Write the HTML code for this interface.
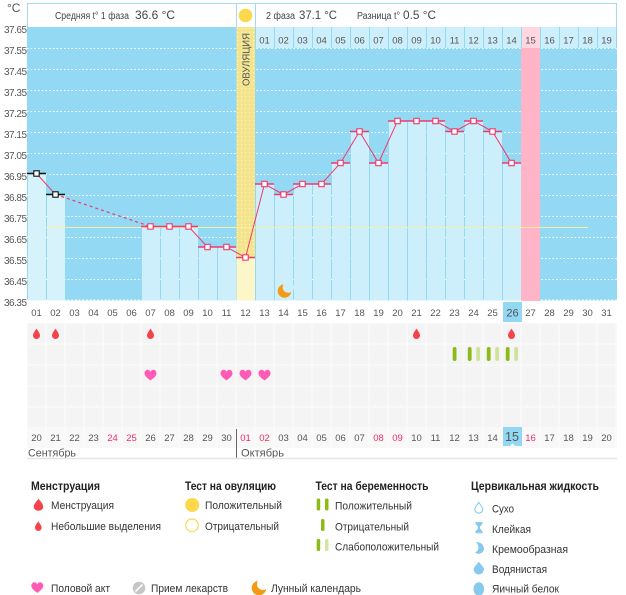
<!DOCTYPE html>
<html><head><meta charset="utf-8"><style>
html,body{margin:0;padding:0;background:#fff;}
svg{display:block;}
text{font-family:"Liberation Sans","DejaVu Sans",sans-serif;}
</style></head><body>
<svg width="626" height="595" viewBox="0 0 626 595" xmlns="http://www.w3.org/2000/svg">
<defs>
<pattern id="dots" x="236" y="27" width="4" height="4" patternUnits="userSpaceOnUse"><rect width="4" height="4" fill="#f4e48d"/><rect x="1" y="1" width="1" height="1" fill="#fff6c8"/></pattern>
<pattern id="cells" x="27" y="323" width="19" height="21" patternUnits="userSpaceOnUse"><rect width="19" height="21" fill="#fbfbfb"/><rect x="0.5" y="0.5" width="18" height="20" fill="#f4f4f4"/></pattern>
<pattern id="cells2" x="27" y="428" width="19" height="20" patternUnits="userSpaceOnUse"><rect width="19" height="20" fill="#fdfdfd"/><rect x="0.5" y="0" width="18" height="20" fill="#f8f8f8"/></pattern>
<path id="heart" d="M0,5 C-1,4 -6,1 -6,-2 C-6,-4.5 -4.2,-5.8 -3,-5.8 C-1.5,-5.8 -0.5,-4.8 0,-3.6 C0.5,-4.8 1.5,-5.8 3,-5.8 C4.2,-5.8 6,-4.5 6,-2 C6,1 1,4 0,5 Z" fill="#ff5ab6"/>
<path id="drop" d="M0,-5.5 C1,-3.5 3.5,-1 3.5,1.5 A3.5,3.5 0 0 1 -3.5,1.5 C-3.5,-1 -1,-3.5 0,-5.5Z" fill="#f3444c"/>
</defs>

<!-- °C -->
<text x="7" y="12" font-size="12" fill="#555">°C</text>

<!-- header -->
<rect x="27.5" y="3.5" width="589" height="24" fill="#fff" stroke="#a3daf0" stroke-width="1"/>
<line x1="236.5" y1="3.5" x2="236.5" y2="27" stroke="#a3daf0"/>
<line x1="255.5" y1="3.5" x2="255.5" y2="27" stroke="#a3daf0"/>
<text x="55" y="19" font-size="10" fill="#444" textLength="74" lengthAdjust="spacingAndGlyphs">Средняя t° 1 фаза</text>
<text x="135" y="19" font-size="12" fill="#444" textLength="40" lengthAdjust="spacingAndGlyphs">36.6 °C</text>
<circle cx="245.5" cy="15.5" r="6.8" fill="#fdd84a"/>
<text x="266" y="19" font-size="10" fill="#444" textLength="29" lengthAdjust="spacingAndGlyphs">2 фаза</text>
<text x="299" y="19" font-size="12" fill="#444" textLength="38" lengthAdjust="spacingAndGlyphs">37.1 °C</text>
<text x="357" y="19" font-size="10" fill="#444" textLength="43" lengthAdjust="spacingAndGlyphs">Разница t°</text>
<text x="403" y="19" font-size="12" fill="#444" textLength="33" lengthAdjust="spacingAndGlyphs">0.5 °C</text>

<!-- chart background -->
<rect x="27" y="27" width="590" height="273.5" fill="#93d9f3"/>

<!-- gridlines -->
<g stroke="#ffffff" stroke-width="1" stroke-dasharray="1.5,2.2">
<line x1="27" y1="300" x2="617" y2="300"/>
<line x1="27" y1="279.5" x2="617" y2="279.5"/>
<line x1="27" y1="258.5" x2="617" y2="258.5"/>
<line x1="27" y1="237.5" x2="617" y2="237.5"/>
<line x1="27" y1="216.5" x2="617" y2="216.5"/>
<line x1="27" y1="195.5" x2="617" y2="195.5"/>
<line x1="27" y1="174.5" x2="617" y2="174.5"/>
<line x1="27" y1="153.5" x2="617" y2="153.5"/>
<line x1="27" y1="132.5" x2="617" y2="132.5"/>
<line x1="27" y1="111.5" x2="617" y2="111.5"/>
<line x1="27" y1="90.5" x2="617" y2="90.5"/>
<line x1="27" y1="69.5" x2="617" y2="69.5"/>
<line x1="27" y1="48.5" x2="617" y2="48.5"/>
</g>

<!-- top day row for post-ovulation -->
<g fill="#cdeffb">
<rect x="256" y="27" width="18" height="21"/><rect x="275" y="27" width="18" height="21"/><rect x="294" y="27" width="18" height="21"/><rect x="313" y="27" width="18" height="21"/><rect x="332" y="27" width="18" height="21"/><rect x="351" y="27" width="18" height="21"/><rect x="370" y="27" width="18" height="21"/><rect x="389" y="27" width="18" height="21"/><rect x="408" y="27" width="18" height="21"/><rect x="427" y="27" width="18" height="21"/><rect x="446" y="27" width="18" height="21"/><rect x="465" y="27" width="18" height="21"/><rect x="484" y="27" width="18" height="21"/><rect x="503" y="27" width="18" height="21"/><rect x="522" y="27" width="18" height="21" fill="#ffd6e1"/><rect x="541" y="27" width="18" height="21"/><rect x="560" y="27" width="18" height="21"/><rect x="579" y="27" width="18" height="21"/><rect x="598" y="27" width="18" height="21"/>
</g>
<g font-size="9.5" fill="#555" text-anchor="middle">
<text x="264.5" y="43.5">01</text><text x="283.5" y="43.5">02</text><text x="302.5" y="43.5">03</text><text x="321.5" y="43.5">04</text><text x="340.5" y="43.5">05</text><text x="359.5" y="43.5">06</text><text x="378.5" y="43.5">07</text><text x="397.5" y="43.5">08</text><text x="416.5" y="43.5">09</text><text x="435.5" y="43.5">10</text><text x="454.5" y="43.5">11</text><text x="473.5" y="43.5">12</text><text x="492.5" y="43.5">13</text><text x="511.5" y="43.5">14</text><text x="530.5" y="43.5">15</text><text x="549.5" y="43.5">16</text><text x="568.5" y="43.5">17</text><text x="587.5" y="43.5">18</text><text x="606.5" y="43.5">19</text>
</g>

<!-- pink column -->
<rect x="521" y="48" width="19" height="253" fill="#ffb4c7"/>

<!-- ovulation column -->
<rect x="236.5" y="27" width="18.5" height="230.5" fill="url(#dots)"/>
<rect x="236.5" y="257.5" width="18.5" height="43" fill="#fdf6c9"/>
<text transform="translate(249.5,86) rotate(-90)" font-size="10" fill="#555" textLength="53" lengthAdjust="spacingAndGlyphs">ОВУЛЯЦИЯ</text>

<!-- bars -->
<g fill="#cdeffb">
<rect x="28" y="173.5" width="18" height="127" fill="#d6f3fc"/>
<rect x="47" y="194.5" width="18" height="106" fill="#d6f3fc"/>
<rect x="142" y="226.5" width="18" height="74"/>
<rect x="161" y="226.5" width="18" height="74"/>
<rect x="180" y="226.5" width="18" height="74"/>
<rect x="199" y="247" width="18" height="53.5"/>
<rect x="218" y="247" width="18" height="53.5"/>
<rect x="256" y="184" width="18" height="116.5"/>
<rect x="275" y="194.5" width="18" height="106"/>
<rect x="294" y="184" width="18" height="116.5"/>
<rect x="313" y="184" width="18" height="116.5"/>
<rect x="332" y="163" width="18" height="137.5"/>
<rect x="351" y="131.5" width="18" height="169"/>
<rect x="370" y="163" width="18" height="137.5"/>
<rect x="389" y="121" width="18" height="179.5"/>
<rect x="408" y="121" width="18" height="179.5"/>
<rect x="427" y="121" width="18" height="179.5"/>
<rect x="446" y="131.5" width="18" height="169"/>
<rect x="465" y="121" width="18" height="179.5"/>
<rect x="484" y="131.5" width="18" height="169"/>
<rect x="503" y="163" width="18" height="137.5"/>
</g>

<!-- coverline -->
<line x1="46" y1="227.5" x2="588" y2="227.5" stroke="#f6f0a4" stroke-width="1"/>

<!-- caps -->
<g stroke="#111" stroke-width="1.4">
<line x1="27" y1="173.5" x2="46" y2="173.5"/>
<line x1="46" y1="194.5" x2="65" y2="194.5"/>
</g>
<g stroke="#ef3a6d" stroke-width="1.4">
<line x1="141" y1="226.5" x2="198" y2="226.5"/>
<line x1="198" y1="247" x2="236" y2="247"/>
<line x1="236" y1="257.5" x2="255" y2="257.5"/>
<line x1="255" y1="184" x2="274" y2="184"/>
<line x1="274" y1="194.5" x2="293" y2="194.5"/>
<line x1="293" y1="184" x2="331" y2="184"/>
<line x1="331" y1="163" x2="350" y2="163"/>
<line x1="350" y1="131.5" x2="369" y2="131.5"/>
<line x1="369" y1="163" x2="388" y2="163"/>
<line x1="388" y1="121" x2="445" y2="121"/>
<line x1="445" y1="131.5" x2="464" y2="131.5"/>
<line x1="464" y1="121" x2="483" y2="121"/>
<line x1="483" y1="131.5" x2="502" y2="131.5"/>
<line x1="502" y1="163" x2="521" y2="163"/>
</g>

<!-- data line -->
<polyline points="36.5,173.5 55.5,194.5" fill="none" stroke="#ef3a6d" stroke-width="1"/>
<polyline points="55.5,194.5 150.5,226.5" fill="none" stroke="#ef3a6d" stroke-width="1.2" stroke-dasharray="3,3"/>
<polyline points="150.5,226.5 169.5,226.5 188.5,226.5 207.5,247 226.5,247 245.5,257.5 264.5,184 283.5,194.5 302.5,184 321.5,184 340.5,163 359.5,131.5 378.5,163 397.5,121 416.5,121 435.5,121 454.5,131.5 473.5,121 492.5,131.5 511.5,163" fill="none" stroke="#ef3a6d" stroke-width="1"/>

<!-- markers -->
<g fill="#fff" stroke="#111" stroke-width="1.1">
<rect x="33.8" y="170.8" width="5.4" height="5.4"/>
<rect x="52.8" y="191.8" width="5.4" height="5.4"/>
</g>
<g fill="#fff" stroke="#ef3a6d" stroke-width="1.1">
<rect x="147.8" y="223.8" width="5.4" height="5.4"/>
<rect x="166.8" y="223.8" width="5.4" height="5.4"/>
<rect x="185.8" y="223.8" width="5.4" height="5.4"/>
<rect x="204.8" y="244.3" width="5.4" height="5.4"/>
<rect x="223.8" y="244.3" width="5.4" height="5.4"/>
<rect x="242.8" y="254.8" width="5.4" height="5.4"/>
<rect x="261.8" y="181.3" width="5.4" height="5.4"/>
<rect x="280.8" y="191.8" width="5.4" height="5.4"/>
<rect x="299.8" y="181.3" width="5.4" height="5.4"/>
<rect x="318.8" y="181.3" width="5.4" height="5.4"/>
<rect x="337.8" y="160.3" width="5.4" height="5.4"/>
<rect x="356.8" y="128.8" width="5.4" height="5.4"/>
<rect x="375.8" y="160.3" width="5.4" height="5.4"/>
<rect x="394.8" y="118.3" width="5.4" height="5.4"/>
<rect x="413.8" y="118.3" width="5.4" height="5.4"/>
<rect x="432.8" y="118.3" width="5.4" height="5.4"/>
<rect x="451.8" y="128.8" width="5.4" height="5.4"/>
<rect x="470.8" y="118.3" width="5.4" height="5.4"/>
<rect x="489.8" y="128.8" width="5.4" height="5.4"/>
<rect x="508.8" y="160.3" width="5.4" height="5.4"/>
</g>

<!-- moon in chart -->
<circle cx="284.5" cy="291" r="6.8" fill="#f39a16"/>
<circle cx="288.3" cy="287.2" r="5.6" fill="#cdeffb"/>

<!-- y labels -->
<g font-size="10" fill="#555" text-anchor="end">
<text x="27" y="33" textLength="23">37.65</text>
<text x="27" y="54" textLength="23">37.55</text>
<text x="27" y="75" textLength="23">37.45</text>
<text x="27" y="96" textLength="23">37.35</text>
<text x="27" y="117" textLength="23">37.25</text>
<text x="27" y="138" textLength="23">37.15</text>
<text x="27" y="159" textLength="23">37.05</text>
<text x="27" y="180" textLength="23">36.95</text>
<text x="27" y="201" textLength="23">36.85</text>
<text x="27" y="222" textLength="23">36.75</text>
<text x="27" y="243" textLength="23">36.65</text>
<text x="27" y="264" textLength="23">36.55</text>
<text x="27" y="285" textLength="23">36.45</text>
<text x="27" y="306" textLength="23">36.35</text>
</g>

<!-- lower area background -->
<rect x="27" y="323" width="590" height="105" fill="url(#cells)"/>
<rect x="27" y="428" width="590" height="20" fill="url(#cells2)"/>

<!-- day row -->
<rect x="503" y="302" width="19" height="20" fill="#92d8f2"/>
<g font-size="9.5" fill="#555" text-anchor="middle">
<text x="36.5" y="316">01</text><text x="55.5" y="316">02</text><text x="74.5" y="316">03</text><text x="93.5" y="316">04</text><text x="112.5" y="316">05</text><text x="131.5" y="316">06</text><text x="150.5" y="316">07</text><text x="169.5" y="316">08</text><text x="188.5" y="316">09</text><text x="207.5" y="316">10</text><text x="226.5" y="316">11</text><text x="245.5" y="316">12</text><text x="264.5" y="316">13</text><text x="283.5" y="316">14</text><text x="302.5" y="316">15</text><text x="321.5" y="316">16</text><text x="340.5" y="316">17</text><text x="359.5" y="316">18</text><text x="378.5" y="316">19</text><text x="397.5" y="316">20</text><text x="416.5" y="316">21</text><text x="435.5" y="316">22</text><text x="454.5" y="316">23</text><text x="473.5" y="316">24</text><text x="492.5" y="316">25</text><text x="512.5" y="316.5" font-size="11">26</text><text x="530.5" y="316">27</text><text x="549.5" y="316">28</text><text x="568.5" y="316">29</text><text x="587.5" y="316">30</text><text x="606.5" y="316">31</text>
</g>

<!-- drops -->
<use href="#drop" x="36.5" y="334"/>
<use href="#drop" x="55.5" y="334"/>
<use href="#drop" x="150.5" y="334"/>
<use href="#drop" x="416.5" y="334"/>
<use href="#drop" x="511.5" y="334"/>

<!-- pregnancy tests -->
<g fill="#8cba17">
<rect x="452.7" y="347" width="3.8" height="14" rx="1.9"/>
<rect x="467.8" y="347" width="3.8" height="14" rx="1.9"/>
<rect x="486.8" y="347" width="3.8" height="14" rx="1.9"/>
<rect x="505.8" y="347" width="3.8" height="14" rx="1.9"/>
</g>
<g fill="#cfe29c">
<rect x="476.2" y="347" width="3.8" height="14" rx="1.9"/>
<rect x="495.2" y="347" width="3.8" height="14" rx="1.9"/>
<rect x="514.2" y="347" width="3.8" height="14" rx="1.9"/>
</g>

<!-- hearts -->
<use href="#heart" x="150.5" y="375.5"/>
<use href="#heart" x="226.5" y="375.5"/>
<use href="#heart" x="245.5" y="375.5"/>
<use href="#heart" x="264.5" y="375.5"/>

<!-- bottom dates -->
<rect x="503" y="427" width="19" height="19" fill="#92d8f2"/>
<path d="M510,446 L512.5,443.5 L515,446 Z" fill="#fff"/>
<g font-size="9.5" fill="#555" text-anchor="middle">
<text x="36.5" y="441">20</text><text x="55.5" y="441">21</text><text x="74.5" y="441">22</text><text x="93.5" y="441">23</text><text x="112.5" y="441" fill="#ee2f64">24</text><text x="131.5" y="441" fill="#ee2f64">25</text><text x="150.5" y="441">26</text><text x="169.5" y="441">27</text><text x="188.5" y="441">28</text><text x="207.5" y="441">29</text><text x="226.5" y="441">30</text><text x="245.5" y="441" fill="#ee2f64">01</text><text x="264.5" y="441" fill="#ee2f64">02</text><text x="283.5" y="441">03</text><text x="302.5" y="441">04</text><text x="321.5" y="441">05</text><text x="340.5" y="441">06</text><text x="359.5" y="441">07</text><text x="378.5" y="441" fill="#ee2f64">08</text><text x="397.5" y="441" fill="#ee2f64">09</text><text x="416.5" y="441">10</text><text x="435.5" y="441">11</text><text x="454.5" y="441">12</text><text x="473.5" y="441">13</text><text x="492.5" y="441">14</text><text x="512" y="441" font-size="12.5">15</text><text x="530.5" y="441" fill="#ee2f64">16</text><text x="549.5" y="441">17</text><text x="568.5" y="441">18</text><text x="587.5" y="441">19</text><text x="606.5" y="441">20</text>
</g>

<!-- months -->
<line x1="236.5" y1="429" x2="236.5" y2="458" stroke="#666" stroke-width="1"/>
<text x="28" y="456.5" font-size="11" fill="#555" textLength="48" lengthAdjust="spacingAndGlyphs">Сентябрь</text>
<text x="241" y="456.5" font-size="11" fill="#555" textLength="43" lengthAdjust="spacingAndGlyphs">Октябрь</text>
<line x1="27" y1="458.5" x2="617" y2="458.5" stroke="#e6e6e6" stroke-width="1.5"/>

<!-- legend headers -->
<g font-size="12" font-weight="bold" fill="#222">
<text x="31" y="490" textLength="69" lengthAdjust="spacingAndGlyphs">Менструация</text>
<text x="185" y="490" textLength="91" lengthAdjust="spacingAndGlyphs">Тест на овуляцию</text>
<text x="315.5" y="490" textLength="113" lengthAdjust="spacingAndGlyphs">Тест на беременность</text>
<text x="471" y="490" textLength="128" lengthAdjust="spacingAndGlyphs">Цервикальная жидкость</text>
</g>

<!-- legend items -->
<g font-size="11" fill="#333">
<text x="51" y="509" textLength="63" lengthAdjust="spacingAndGlyphs">Менструация</text>
<text x="51" y="530" textLength="110" lengthAdjust="spacingAndGlyphs">Небольшие выделения</text>
<text x="205" y="509" textLength="77" lengthAdjust="spacingAndGlyphs">Положительный</text>
<text x="205" y="530" textLength="74" lengthAdjust="spacingAndGlyphs">Отрицательный</text>
<text x="335" y="509.5" textLength="77" lengthAdjust="spacingAndGlyphs">Положительный</text>
<text x="335" y="530.5" textLength="74" lengthAdjust="spacingAndGlyphs">Отрицательный</text>
<text x="335" y="550.5" textLength="104" lengthAdjust="spacingAndGlyphs">Слабоположительный</text>
<text x="492" y="512.5" textLength="22" lengthAdjust="spacingAndGlyphs">Сухо</text>
<text x="492" y="533" textLength="39" lengthAdjust="spacingAndGlyphs">Клейкая</text>
<text x="492" y="553" textLength="76" lengthAdjust="spacingAndGlyphs">Кремообразная</text>
<text x="492" y="573" textLength="55" lengthAdjust="spacingAndGlyphs">Водянистая</text>
<text x="492" y="592.5" textLength="67" lengthAdjust="spacingAndGlyphs">Яичный белок</text>
<text x="51" y="592" textLength="59" lengthAdjust="spacingAndGlyphs">Половой акт</text>
<text x="151" y="592" textLength="77" lengthAdjust="spacingAndGlyphs">Прием лекарств</text>
<text x="271" y="592" textLength="90" lengthAdjust="spacingAndGlyphs">Лунный календарь</text>
</g>

<!-- legend icons -->
<use href="#drop" transform="translate(38.5,505) scale(1.35,1.15)"/>
<use href="#drop" transform="translate(38.3,526.3) scale(0.95,0.92)"/>
<circle cx="192.2" cy="505" r="7" fill="#fdd84a"/>
<circle cx="192" cy="525.3" r="6.3" fill="#fff" stroke="#fdd84a" stroke-width="1.2"/>
<g fill="#8cba17">
<rect x="316.7" y="498.5" width="3.5" height="12" rx="1.5"/>
<rect x="325" y="498.5" width="3.5" height="12" rx="1.5"/>
<rect x="321" y="519" width="3.5" height="12" rx="1.5"/>
<rect x="316.7" y="539" width="3.5" height="12" rx="1.5"/>
</g>
<rect x="325" y="539" width="3.5" height="12" rx="1.5" fill="#d3e5a3"/>

<!-- cervical icons -->
<path d="M478.8,502.5 C480,504.5 482.8,507 482.8,509.2 A4,4 0 0 1 474.8,509.2 C474.8,507 477.6,504.5 478.8,502.5Z" fill="#fff" stroke="#86caef" stroke-width="1.1"/>
<path d="M475.5,522 h7 v1.8 l-2.5,3 v1.6 l2.5,3 v1.8 h-7 v-1.8 l2.5,-3 v-1.6 l-2.5,-3 z" fill="#86caef"/>
<path d="M476,542 C481,542 484,545 484,549 A5.5,5.5 0 0 1 475,552.5 C479,551 479.5,546 476,542Z" fill="#86caef"/>
<path d="M478.8,561.5 C480.3,564 484,567 484,569.3 A5.2,5.2 0 0 1 473.6,569.3 C473.6,567 477.3,564 478.8,561.5Z" fill="#86caef"/>
<ellipse cx="478.8" cy="589" rx="5.3" ry="6.8" fill="#86caef"/>

<!-- bottom legend icons -->
<use href="#heart" x="37.3" y="588"/>
<circle cx="139" cy="588" r="6.3" fill="#c6c6c6"/>
<line x1="135.5" y1="591.5" x2="142.5" y2="584.5" stroke="#fff" stroke-width="1.6"/>
<circle cx="259" cy="588" r="7.3" fill="#f39a16"/>
<circle cx="263" cy="584" r="6" fill="#fff"/>
</svg>
</body></html>
